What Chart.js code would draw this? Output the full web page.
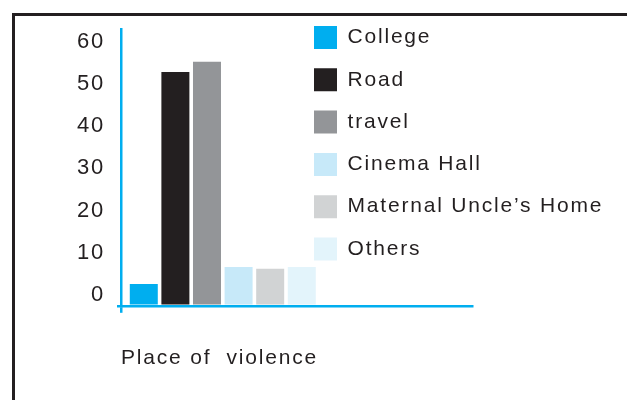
<!DOCTYPE html>
<html><head><meta charset="utf-8">
<script src="https://cdn.jsdelivr.net/npm/chart.js@4/dist/chart.umd.min.js"></script>
<style>
html,body{margin:0;padding:0;background:#fff;overflow:hidden;}
#wrap{position:relative;width:627px;height:400px;}
#frame{position:absolute;left:12px;top:13px;width:700px;height:500px;border-left:3px solid #231f20;border-top:3px solid #231f20;box-sizing:border-box;}
canvas{position:absolute;left:0;top:0;}
</style></head><body>
<div id="wrap"><div id="frame"></div><canvas id="c" width="627" height="400"></canvas></div>
<script>
// ---- data ----
const categories = ['College', 'Road', 'travel', 'Cinema Hall', 'Maternal Uncle\u2019s Home', 'Others'];
const values = [5.2, 55.5, 57.9, 9.2, 8.8, 9.2];
const yTickValues = [0, 10, 20, 30, 40, 50, 60];
const xTitle = 'Place of  violence';

// ---- styles ----
const colors = ['#00aeef', '#231f20', '#939598', '#c7e9f9', '#d1d3d4', '#e3f4fb'];
const CYAN = '#00aeef';
const INK = '#231f20';
const FAMILY = '"Liberation Sans", Arial, Helvetica, sans-serif';
const GROUP_AT = 2.9;   // where the bar group sits on the hidden x axis (0..10)
const SPACING = '1.8px';

const datasets = categories.map((c, i) => ({
  label: c,
  data: [{x: GROUP_AT, y: values[i]}],
  backgroundColor: colors[i],
  borderWidth: 0,
  categoryPercentage: 0.5402,
  barPercentage: 0.886
}));

const spacingPlugin = {
  id: 'spacing',
  beforeUpdate(chart) { chart.ctx.letterSpacing = SPACING; },
  beforeDraw(chart) { chart.ctx.letterSpacing = SPACING; }
};
const placeLegend = {
  id: 'placeLegend',
  afterLayout(chart) {
    const lg = chart.legend; if (!lg) return;
    const pad = lg.options.labels.padding;
    const ca = chart.chartArea;
    lg.left = ca.left + 193 - pad;
    lg.top = ca.top - 3 - pad;
    lg.right = lg.left + lg.width;
    lg.bottom = chart.height;
  }
};

new Chart(document.getElementById('c'), {
  type: 'bar',
  data: { datasets },
  plugins: [spacingPlugin, placeLegend],
  options: {
    responsive: false,
    animation: false,
    events: [],
    layout: { padding: { left: 10, top: 29, right: 155, bottom: 29 } },
    plugins: {
      tooltip: { enabled: false },
      legend: {
        position: 'chartArea',
        align: 'start',
        labels: {
          boxWidth: 23, boxHeight: 23, padding: 19.3,
          color: INK,
          font: { family: FAMILY, size: 21 },
          generateLabels(chart) {
            return Chart.defaults.plugins.legend.labels.generateLabels(chart).map(l => Object.assign(l, { lineWidth: 0 }));
          }
        }
      }
    },
    scales: {
      x: {
        type: 'linear', min: 0, max: 10, offset: false,
        ticks: { display: false, stepSize: 10 },
        grid: {
          offset: false, drawOnChartArea: false, drawTicks: true, tickLength: 7, lineWidth: 2.5,
          color: ctx => (ctx.tick && ctx.tick.value === 0) ? CYAN : 'rgba(0,0,0,0)'
        },
        border: { color: CYAN, width: 2.5, z: 1 },
        title: {
          display: true, text: xTitle, align: 'start', color: INK,
          font: { family: FAMILY, size: 21 }, padding: { top: 33, bottom: 0 }
        }
      },
      y: {
        min: 0, max: 65.7,
        afterFit(scale) { scale.width = 111; },
        afterBuildTicks(scale) { scale.ticks = yTickValues.map(v => ({ value: v })); },
        ticks: {
          labelOffset: -11, padding: 12, color: INK,
          font: { family: FAMILY, size: 22 }
        },
        grid: {
          drawOnChartArea: false, drawTicks: true, tickLength: 4, lineWidth: 2.5,
          color: ctx => (ctx.tick && ctx.tick.value === 0) ? CYAN : 'rgba(0,0,0,0)'
        },
        border: { color: CYAN, width: 2.5, z: 1 }
      }
    }
  }
});
</script>
</body></html>
